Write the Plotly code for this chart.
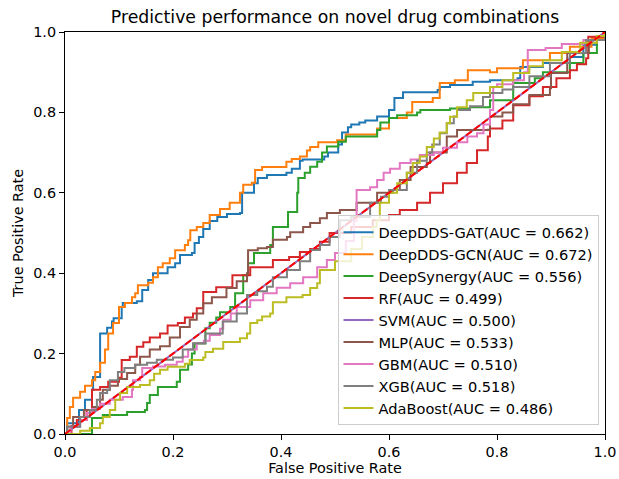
import plotly.graph_objects as go

labels = ["DeepDDS-GAT(AUC = 0.662)", "DeepDDS-GCN(AUC = 0.672)", "DeepSynergy(AUC = 0.556)",
          "RF(AUC = 0.499)", "SVM(AUC = 0.500)", "MLP(AUC = 0.533)", "GBM(AUC = 0.510)",
          "XGB(AUC = 0.518)", "AdaBoost(AUC = 0.486)"]
colors = ["#1f77b4", "#ff7f0e", "#2ca02c", "#d62728", "#9467bd", "#8c564b", "#e377c2", "#7f7f7f", "#bcbd22"]

gat_fpr = [0, 0.004, 0.026, 0.037, 0.05, 0.052, 0.065, 0.078, 0.087, 0.09, 0.105, 0.107, 0.133, 0.143, 0.154, 0.163, 0.19, 0.204, 0.213, 0.235, 0.24, 0.248, 0.256, 0.268, 0.282, 0.300, 0.324, 0.328, 0.35, 0.357, 0.374, 0.41, 0.42, 0.435, 0.44, 0.48, 0.487, 0.506, 0.513, 0.524, 0.53, 0.545, 0.556, 0.578, 0.60, 0.61, 0.626, 0.69, 0.694, 0.713, 0.755, 0.787, 0.838, 0.843, 0.885, 0.935, 0.96, 0.985, 1.0]
gat_tpr = [0, 0.027, 0.06, 0.085, 0.11, 0.142, 0.25, 0.264, 0.28, 0.288, 0.316, 0.326, 0.33, 0.358, 0.383, 0.40, 0.415, 0.425, 0.445, 0.45, 0.475, 0.49, 0.51, 0.53, 0.54, 0.547, 0.55, 0.60, 0.624, 0.637, 0.644, 0.65, 0.66, 0.68, 0.683, 0.69, 0.70, 0.72, 0.75, 0.763, 0.77, 0.775, 0.78, 0.79, 0.806, 0.836, 0.85, 0.856, 0.863, 0.868, 0.876, 0.88, 0.885, 0.913, 0.923, 0.938, 0.968, 0.988, 1.0]

gcn_fpr = [0, 0.004, 0.009, 0.015, 0.028, 0.037, 0.05, 0.056, 0.065, 0.074, 0.08, 0.089, 0.1, 0.111, 0.124, 0.13, 0.135, 0.154, 0.163, 0.172, 0.181, 0.194, 0.204, 0.222, 0.228, 0.232, 0.244, 0.256, 0.268, 0.287, 0.305, 0.324, 0.33, 0.346, 0.352, 0.365, 0.41, 0.42, 0.435, 0.448, 0.454, 0.469, 0.504, 0.52, 0.578, 0.60, 0.633, 0.643, 0.681, 0.694, 0.722, 0.746, 0.787, 0.80, 0.848, 0.898, 0.935, 0.975, 1.0]
gcn_tpr = [0, 0.04, 0.067, 0.09, 0.105, 0.12, 0.134, 0.154, 0.177, 0.21, 0.25, 0.276, 0.316, 0.326, 0.34, 0.35, 0.37, 0.376, 0.39, 0.415, 0.425, 0.437, 0.457, 0.47, 0.482, 0.507, 0.515, 0.525, 0.545, 0.56, 0.575, 0.60, 0.62, 0.625, 0.657, 0.664, 0.677, 0.684, 0.69, 0.705, 0.714, 0.726, 0.731, 0.745, 0.76, 0.786, 0.80, 0.826, 0.836, 0.873, 0.88, 0.905, 0.90, 0.91, 0.93, 0.948, 0.963, 0.985, 1.0]

ds_fpr = [0, 0.05, 0.05, 0.07, 0.115, 0.148, 0.152, 0.157, 0.172, 0.207, 0.213, 0.228, 0.235, 0.24, 0.26, 0.268, 0.28, 0.287, 0.306, 0.315, 0.33, 0.339, 0.35, 0.38, 0.385, 0.413, 0.43, 0.432, 0.444, 0.454, 0.467, 0.476, 0.485, 0.506, 0.52, 0.578, 0.584, 0.60, 0.615, 0.652, 0.658, 0.713, 0.75, 0.787, 0.83, 0.87, 0.885, 0.935, 0.96, 0.985, 1.0]
ds_tpr = [0, 0.0, 0.04, 0.047, 0.055, 0.06, 0.077, 0.097, 0.117, 0.13, 0.16, 0.173, 0.2, 0.225, 0.263, 0.277, 0.29, 0.303, 0.316, 0.35, 0.395, 0.425, 0.45, 0.47, 0.515, 0.552, 0.60, 0.637, 0.65, 0.665, 0.677, 0.70, 0.715, 0.727, 0.74, 0.756, 0.775, 0.786, 0.793, 0.80, 0.806, 0.81, 0.813, 0.83, 0.873, 0.885, 0.90, 0.923, 0.948, 0.98, 1.0]

rf_fpr = [0, 0.012, 0.022, 0.04, 0.05, 0.065, 0.08, 0.1, 0.105, 0.12, 0.133, 0.145, 0.157, 0.176, 0.19, 0.209, 0.222, 0.237, 0.244, 0.256, 0.28, 0.31, 0.343, 0.385, 0.415, 0.435, 0.454, 0.472, 0.49, 0.53, 0.57, 0.60, 0.62, 0.652, 0.676, 0.70, 0.726, 0.744, 0.763, 0.783, 0.787, 0.81, 0.83, 0.86, 0.885, 0.91, 0.935, 0.948, 0.965, 0.969, 1.0]
rf_tpr = [0, 0.02, 0.035, 0.06, 0.11, 0.117, 0.13, 0.14, 0.184, 0.192, 0.217, 0.228, 0.24, 0.25, 0.27, 0.276, 0.29, 0.30, 0.313, 0.353, 0.365, 0.395, 0.415, 0.433, 0.44, 0.453, 0.46, 0.478, 0.50, 0.515, 0.532, 0.545, 0.557, 0.575, 0.60, 0.624, 0.65, 0.674, 0.706, 0.74, 0.76, 0.78, 0.818, 0.84, 0.863, 0.885, 0.905, 0.92, 0.935, 0.988, 1.0]

svm_fpr = [0, 1.0]
svm_tpr = [0, 1.0]

mlp_fpr = [0, 0.004, 0.015, 0.035, 0.052, 0.065, 0.07, 0.083, 0.098, 0.115, 0.13, 0.139, 0.157, 0.176, 0.194, 0.213, 0.231, 0.244, 0.256, 0.272, 0.299, 0.318, 0.337, 0.339, 0.357, 0.374, 0.385, 0.411, 0.417, 0.441, 0.454, 0.472, 0.485, 0.509, 0.54, 0.578, 0.607, 0.62, 0.64, 0.67, 0.676, 0.707, 0.726, 0.783, 0.787, 0.81, 0.83, 0.86, 0.898, 0.90, 0.93, 0.97, 1.0]
mlp_tpr = [0, 0.018, 0.042, 0.06, 0.067, 0.085, 0.11, 0.12, 0.137, 0.152, 0.172, 0.192, 0.21, 0.218, 0.24, 0.266, 0.284, 0.30, 0.325, 0.34, 0.363, 0.38, 0.40, 0.457, 0.462, 0.465, 0.483, 0.49, 0.502, 0.515, 0.525, 0.537, 0.55, 0.557, 0.575, 0.60, 0.607, 0.632, 0.664, 0.675, 0.70, 0.74, 0.756, 0.757, 0.79, 0.80, 0.82, 0.843, 0.86, 0.898, 0.948, 0.98, 1.0]

gbm_fpr = [0, 0.01, 0.028, 0.04, 0.05, 0.065, 0.083, 0.107, 0.124, 0.126, 0.139, 0.143, 0.163, 0.185, 0.207, 0.218, 0.228, 0.244, 0.257, 0.268, 0.287, 0.293, 0.307, 0.318, 0.343, 0.367, 0.392, 0.417, 0.441, 0.467, 0.485, 0.50, 0.52, 0.535, 0.54, 0.565, 0.578, 0.59, 0.602, 0.62, 0.64, 0.657, 0.683, 0.70, 0.726, 0.745, 0.763, 0.775, 0.787, 0.793, 0.80, 0.83, 0.85, 0.857, 0.89, 0.92, 0.96, 1.0]
gbm_tpr = [0, 0.018, 0.035, 0.052, 0.062, 0.075, 0.085, 0.092, 0.11, 0.134, 0.142, 0.164, 0.168, 0.172, 0.18, 0.192, 0.21, 0.226, 0.232, 0.246, 0.262, 0.284, 0.30, 0.316, 0.333, 0.35, 0.364, 0.375, 0.39, 0.415, 0.433, 0.45, 0.48, 0.53, 0.607, 0.614, 0.632, 0.65, 0.66, 0.674, 0.683, 0.694, 0.70, 0.712, 0.726, 0.74, 0.748, 0.77, 0.806, 0.863, 0.87, 0.88, 0.90, 0.955, 0.96, 0.97, 0.98, 1.0]

xgb_fpr = [0, 0.004, 0.028, 0.046, 0.059, 0.065, 0.078, 0.083, 0.098, 0.11, 0.13, 0.152, 0.17, 0.2, 0.218, 0.237, 0.26, 0.292, 0.318, 0.337, 0.356, 0.374, 0.385, 0.411, 0.435, 0.454, 0.472, 0.49, 0.509, 0.53, 0.565, 0.585, 0.60, 0.633, 0.652, 0.67, 0.68, 0.694, 0.707, 0.72, 0.726, 0.75, 0.774, 0.787, 0.81, 0.83, 0.86, 0.898, 0.935, 0.965, 1.0]
xgb_tpr = [0, 0.018, 0.042, 0.06, 0.085, 0.102, 0.11, 0.134, 0.154, 0.164, 0.172, 0.177, 0.185, 0.19, 0.21, 0.226, 0.25, 0.28, 0.3, 0.346, 0.355, 0.366, 0.39, 0.408, 0.43, 0.458, 0.47, 0.49, 0.532, 0.54, 0.575, 0.59, 0.607, 0.65, 0.68, 0.70, 0.72, 0.748, 0.773, 0.79, 0.806, 0.815, 0.838, 0.848, 0.857, 0.863, 0.89, 0.923, 0.948, 0.98, 1.0]

ada_fpr = [0, 0.009, 0.028, 0.046, 0.065, 0.07, 0.083, 0.093, 0.102, 0.115, 0.139, 0.157, 0.165, 0.176, 0.19, 0.222, 0.231, 0.256, 0.26, 0.274, 0.293, 0.324, 0.337, 0.343, 0.356, 0.365, 0.38, 0.385, 0.41, 0.44, 0.454, 0.467, 0.472, 0.50, 0.53, 0.55, 0.57, 0.577, 0.583, 0.60, 0.615, 0.633, 0.644, 0.657, 0.67, 0.683, 0.694, 0.707, 0.713, 0.726, 0.744, 0.756, 0.787, 0.81, 0.83, 0.86, 0.885, 0.92, 0.954, 0.985, 1.0]
ada_tpr = [0, 0.0, 0.008, 0.015, 0.027, 0.042, 0.06, 0.085, 0.102, 0.117, 0.122, 0.134, 0.15, 0.16, 0.167, 0.175, 0.184, 0.19, 0.204, 0.212, 0.229, 0.238, 0.25, 0.276, 0.283, 0.292, 0.30, 0.328, 0.34, 0.346, 0.363, 0.375, 0.408, 0.43, 0.46, 0.49, 0.515, 0.532, 0.575, 0.60, 0.624, 0.65, 0.674, 0.69, 0.714, 0.735, 0.75, 0.773, 0.789, 0.813, 0.83, 0.848, 0.863, 0.88, 0.898, 0.915, 0.93, 0.95, 0.973, 0.99, 1.0]

series_fpr = [gat_fpr, gcn_fpr, ds_fpr, rf_fpr, svm_fpr, mlp_fpr, gbm_fpr, xgb_fpr, ada_fpr]
series_tpr = [gat_tpr, gcn_tpr, ds_tpr, rf_tpr, svm_tpr, mlp_tpr, gbm_tpr, xgb_tpr, ada_tpr]

diag = [0, 1]
tick_vals = [0.0, 0.2, 0.4, 0.6, 0.8, 1.0]
tick_text = ["0.0", "0.2", "0.4", "0.6", "0.8", "1.0"]

fig = go.Figure()
for name, col, fx, ty in zip(labels, colors, series_fpr, series_tpr):
    shape = "linear" if len(fx) <= 2 else "hv"
    fig.add_trace(go.Scatter(x=fx, y=ty, mode="lines", name=name,
                             line=dict(color=col, width=2, shape=shape)))
fig.add_trace(go.Scatter(x=diag, y=diag, mode="lines", showlegend=False,
                         line=dict(color="#ff0000", width=2, dash="7px,3px")))

font = "DejaVu Sans, sans-serif"
fig.update_layout(
    width=619, height=479,
    margin=dict(l=65, r=14, t=32, b=45, autoexpand=False),
    paper_bgcolor="white", plot_bgcolor="white",
    font=dict(family=font, size=14.4, color="black"),
    title=dict(text="Predictive performance on novel drug combinations",
               x=0.5, xref="paper", xanchor="center", y=0.9645, yref="container", yanchor="middle",
               font=dict(size=17.3, color="black")),
    showlegend=True,
    legend=dict(x=0.988, xanchor="right", y=0.022, yanchor="bottom",
                bgcolor="rgba(255,255,255,0.8)", bordercolor="#cccccc", borderwidth=1,
                font=dict(size=14.6), tracegroupgap=0, itemwidth=30),
)
fig.update_xaxes(range=[0, 1], tickvals=tick_vals, ticktext=tick_text, automargin=False,
                 showline=True, linecolor="black", linewidth=1, mirror=True,
                 ticks="outside", ticklen=5, tickcolor="black", showgrid=False, zeroline=False,
                 title=dict(text="False Positive Rate", font=dict(size=14.4), standoff=3))
fig.update_yaxes(range=[0, 1], tickvals=tick_vals, ticktext=tick_text, automargin=False,
                 showline=True, linecolor="black", linewidth=1, mirror=True,
                 ticks="outside", ticklen=5, tickcolor="black", showgrid=False, zeroline=False,
                 title=dict(text="True Positive Rate", font=dict(size=14.4), standoff=6))

fig.write_html("out.html", config={"displayModeBar": False},
               post_script="document.body.style.margin='0';document.body.style.overflow='hidden';")
